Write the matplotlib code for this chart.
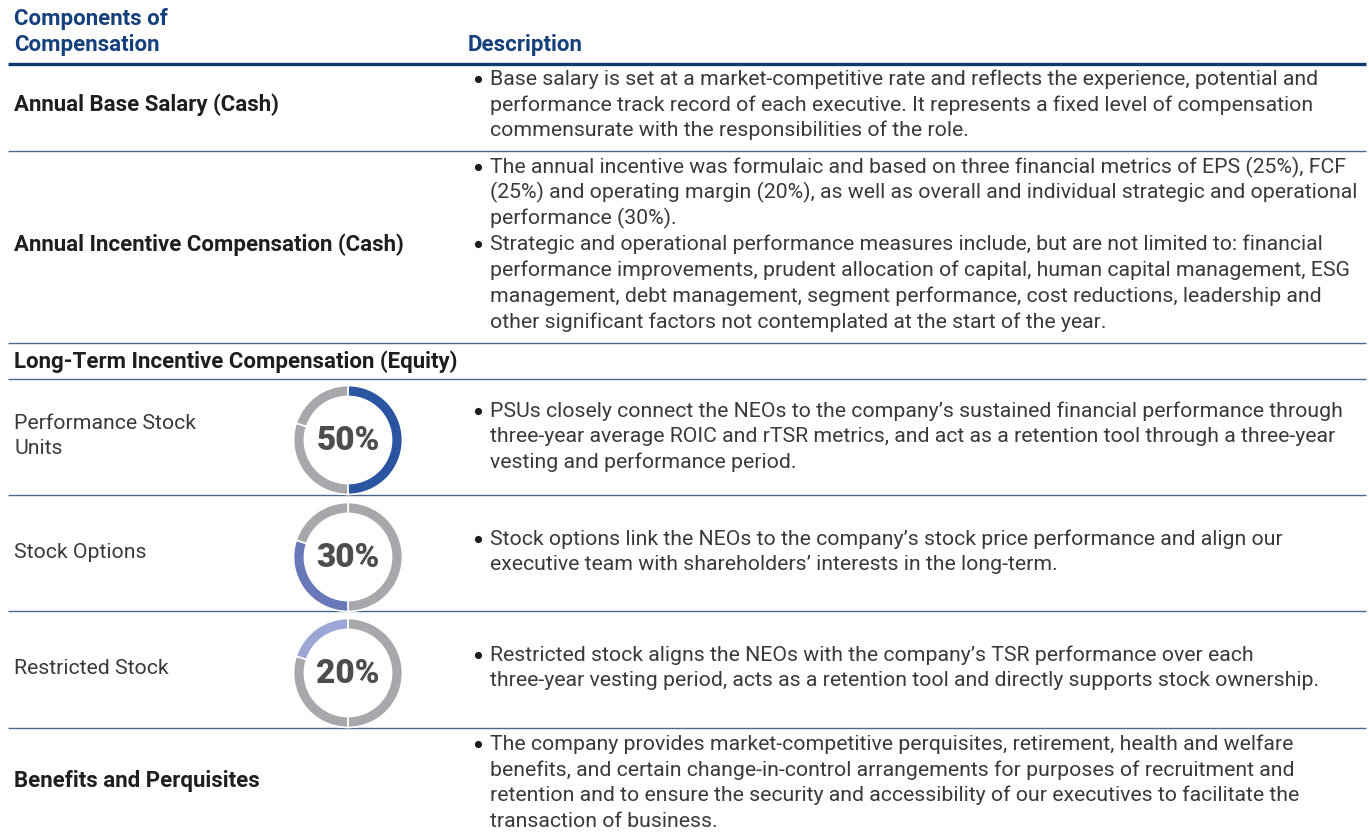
import matplotlib
matplotlib.use('Agg')
import matplotlib.pyplot as plt

# --- data ---
header_left = ["Components of", "Compensation"]
header_right = "Description"

row_labels = ["Annual Base Salary (Cash)", "Annual Incentive Compensation (Cash)"]
section_label = "Long-Term Incentive Compensation (Equity)"
equity_labels = [["Performance Stock", "Units"], ["Stock Options"], ["Restricted Stock"]]
equity_shares = [50, 30, 20]
equity_colors = ['#2b55a1', '#6878b9', '#9ca6d7']
last_label = "Benefits and Perquisites"

desc_base = [[
    "Base salary is set at a market-competitive rate and reflects the experience, potential and",
    "performance track record of each executive. It represents a fixed level of compensation",
    "commensurate with the responsibilities of the role.",
]]
desc_incentive = [[
    "The annual incentive was formulaic and based on three financial metrics of EPS (25%), FCF",
    "(25%) and operating margin (20%), as well as overall and individual strategic and operational",
    "performance (30%).",
], [
    "Strategic and operational performance measures include, but are not limited to: financial",
    "performance improvements, prudent allocation of capital, human capital management, ESG",
    "management, debt management, segment performance, cost reductions, leadership and",
    "other significant factors not contemplated at the start of the year.",
]]
desc_psu = [[
    "PSUs closely connect the NEOs to the company\u2019s sustained financial performance through",
    "three-year average ROIC and rTSR metrics, and act as a retention tool through a three-year",
    "vesting and performance period.",
]]
desc_options = [[
    "Stock options link the NEOs to the company\u2019s stock price performance and align our",
    "executive team with shareholders\u2019 interests in the long-term.",
]]
desc_restricted = [[
    "Restricted stock aligns the NEOs with the company\u2019s TSR performance over each",
    "three-year vesting period, acts as a retention tool and directly supports stock ownership.",
]]
desc_benefits = [[
    "The company provides market-competitive perquisites, retirement, health and welfare",
    "benefits, and certain change-in-control arrangements for purposes of recruitment and",
    "retention and to ensure the security and accessibility of our executives to facilitate the",
    "transaction of business.",
]]

# --- layout (pixels) ---
W, H = 1369, 839
NAVY = '#16407c'
TXT = '#3a3a3a'
GRAY = '#a7a8ab'
LINE = '#4a6890'
STEP = 25.8
FS = 16.0      # bold labels / header
FB = 15.3      # body text

plt.rcParams['font.family'] = ['Roboto', 'DejaVu Sans']
fig = plt.figure(figsize=(W / 100, H / 100), dpi=100)
ax = fig.add_axes([0, 0, 1, 1])
ax.set_xlim(0, W)
ax.set_ylim(H, 0)
ax.axis('off')

# header
ax.text(14, 19, header_left[0], fontsize=FS, fontweight='bold', color=NAVY, va='center')
ax.text(14, 45, header_left[1], fontsize=FS, fontweight='bold', color=NAVY, va='center')
ax.text(468, 45, header_right, fontsize=FS, fontweight='bold', color=NAVY, va='center')
ax.plot([8, 1366], [64, 64], color='#0e3a71', lw=2.4, solid_capstyle='butt')

# separators
for y in [151, 343, 379, 495, 611, 728]:
    ax.plot([8, 1366], [y, y], color=LINE, lw=1.0, solid_capstyle='butt')


def bullets(groups, y0):
    y = y0
    for g in groups:
        ax.plot(478, y, 'o', ms=5.2, color='#1e1e1e', mec='none')
        for ln in g:
            ax.text(490, y, ln, fontsize=FB, color=TXT, va='center')
            y += STEP


# rows
ax.text(14, 105, row_labels[0], fontsize=FS, fontweight='bold', color='#1e1e1e', va='center')
bullets(desc_base, 79)

ax.text(14, 245, row_labels[1], fontsize=FS, fontweight='bold', color='#1e1e1e', va='center')
bullets(desc_incentive, 167)

ax.text(14, 362, section_label, fontsize=FS, fontweight='bold', color='#1e1e1e', va='center')

eq_desc = [desc_psu, desc_options, desc_restricted]
eq_centers = [440, 557, 673]
eq_text_y = [411, 539, 655]
r = 55
for i, cy in enumerate(eq_centers):
    lab = equity_labels[i]
    ly = cy - (len(lab) - 1) * STEP / 2 - 6
    for k, s in enumerate(lab):
        ax.text(14, ly + k * STEP + 2, s, fontsize=FB, color=TXT, va='center')
    bullets(eq_desc[i], eq_text_y[i])

    dax = fig.add_axes([(348 - r) / W, 1 - (cy + r) / H, 2 * r / W, 2 * r / H])
    cols = [GRAY] * len(equity_shares)
    cols[i] = equity_colors[i]
    dax.pie(equity_shares, colors=cols, startangle=90, counterclock=False, radius=1,
            wedgeprops=dict(width=0.2, edgecolor='white', linewidth=1.2))
    dax.set_xlim(-1.01, 1.01)
    dax.set_ylim(-1.01, 1.01)
    dax.set_aspect('equal')
    dax.text(0, -0.02, f"{equity_shares[i]}%", fontsize=24, fontweight='heavy',
             color='#4d4d4d', ha='center', va='center')

ax.text(14, 781, last_label, fontsize=FS, fontweight='bold', color='#1e1e1e', va='center')
bullets(desc_benefits, 744)

fig.savefig('out.png', dpi=100)
